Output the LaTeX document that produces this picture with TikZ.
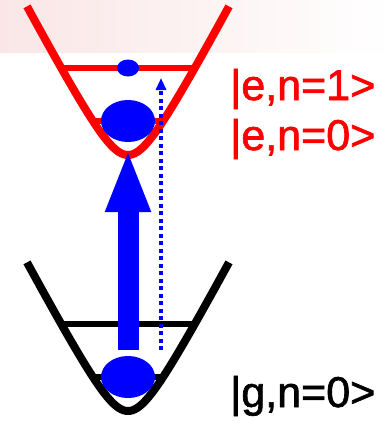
\documentclass[tikz,border=0pt]{standalone}
\usepackage{fontspec}
\setmainfont{Liberation Sans}
\newfontfamily\ketfont{Liberation Sans}[FakeBold=1.5]
\usetikzlibrary{arrows.meta,shapes.geometric}
\definecolor{bandpink}{RGB}{250,230,230}
\tikzset{
  well/.style={line width=8pt, domain=-101:101, samples=121, smooth},
  levelline/.style={line width=6.5pt},
  blob/.style={ellipse, fill=blue, inner sep=0pt, draw=none},
  ketlabel/.style={anchor=base west, inner sep=0pt, font=\ketfont\fontsize{43}{43}\selectfont},
}
\begin{document}
\begin{tikzpicture}[x=1pt,y=-1pt]
\useasboundingbox (0,0) rectangle (391,424);
\shade[left color=bandpink, right color=white] (0,0) rectangle (391,52);

% excited state well (red)
\draw[levelline, red] (61,68) -- (195,68);
\draw[levelline, red] (93,121) -- (163,121);
\draw[well, red] plot ({128+\x},{155-1.88*(sqrt(\x*\x+625)-25)});

% ground state well (black)
\draw[levelline, black] (61,324) -- (195,324);
\draw[levelline, black] (93,377) -- (163,377);
\draw[well, black] plot ({128+\x},{411-1.88*(sqrt(\x*\x+625)-25)});

% populations
\node[blob, minimum width=22pt, minimum height=17pt] (e1) at (128,68) {};
\node[blob, minimum width=54pt, minimum height=42pt] (e0) at (128,121) {};
\node[blob, minimum width=54pt, minimum height=42pt] (g0) at (128,377) {};

% transitions
\coordinate (thickstart) at (128,350);
\coordinate (thickend) at (128,149);
\draw[blue, line width=21pt, -{Triangle[length=63pt,width=41pt]}] (thickstart) -- (thickend);
\coordinate (dotstart) at (161,350);
\coordinate (dotend) at (161,78);
\draw[blue, line width=3.6pt, dash pattern=on 4pt off 3.5pt, -{Triangle[length=12pt,width=10pt]}] (dotstart) -- (dotend);

% labels
\node[ketlabel, text=red] (le1) at (230,100) {|e,n=1>};
\node[ketlabel, text=red] (le0) at (230,150) {|e,n=0>};
\node[ketlabel, text=black] (lg0) at (230,407) {|g,n=0>};
\end{tikzpicture}
\end{document}
